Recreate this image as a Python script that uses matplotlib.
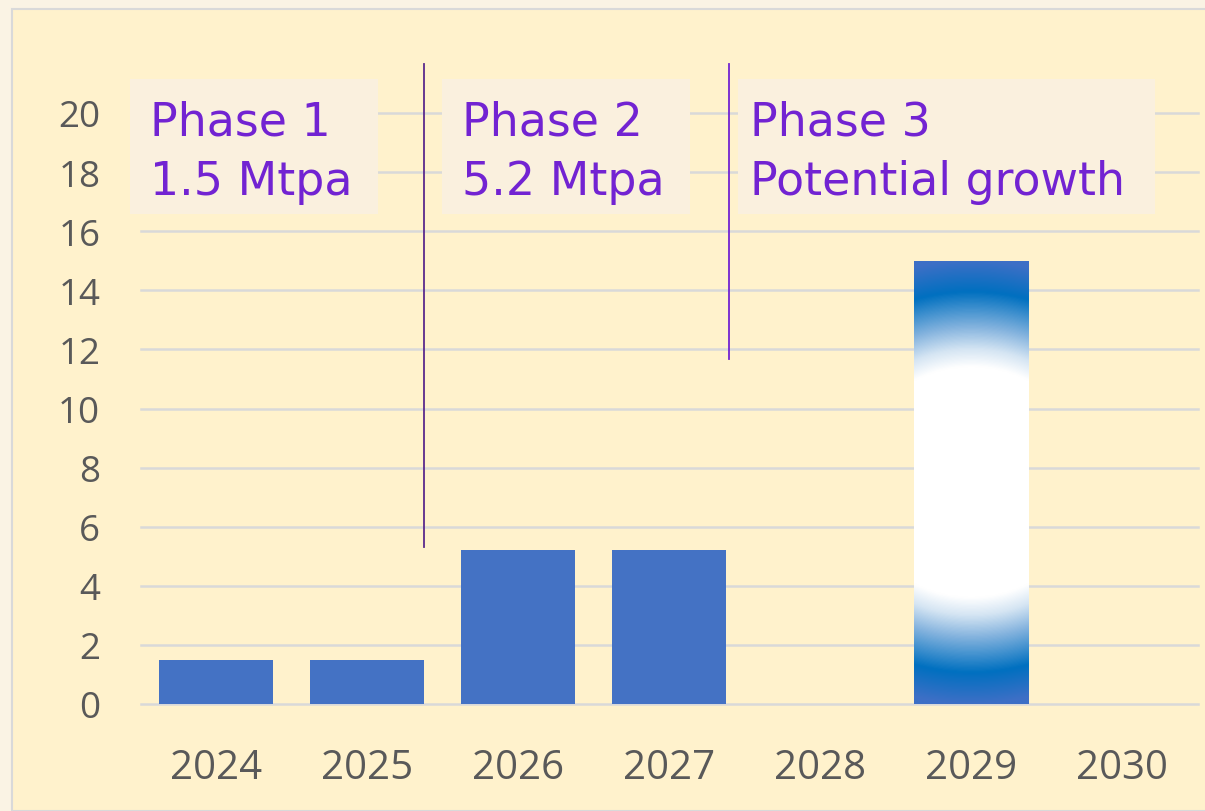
import numpy as np
import matplotlib
matplotlib.use("Agg")
import matplotlib.pyplot as plt
from matplotlib.patches import Rectangle
from matplotlib.colors import LinearSegmentedColormap

# ---- data ----
years = ["2024", "2025", "2026", "2027", "2028", "2029", "2030"]
capacity = [1.5, 1.5, 5.2, 5.2, 0, 15, 0]
highlight_year = "2029"
yticks = [0, 2, 4, 6, 8, 10, 12, 14, 16, 18, 20]
phase_titles = ["Phase 1", "Phase 2", "Phase 3"]
phase_subtitles = ["1.5 Mtpa", "5.2 Mtpa", "Potential growth"]

W, H = 1205, 812
fig = plt.figure(figsize=(W / 100, H / 100), dpi=100, facecolor="#FAF3E4")
# inner chart area
fig.patches.append(Rectangle((12 / W, 0), 1.0, 1 - 10 / H, transform=fig.transFigure,
                             facecolor="#FFF2CC", edgecolor="#D9D9D9", linewidth=1.5,
                             zorder=-10))

ax_left, ax_right = 140.5 / W, 1197.5 / W
y0_px = 705
px_per_unit = 29.55
ymax = 22
ax_bottom = 1 - y0_px / H
ax_top = 1 - (y0_px - ymax * px_per_unit) / H
ax = fig.add_axes([ax_left, ax_bottom, ax_right - ax_left, ax_top - ax_bottom])
ax.set_zorder(1)
ax.set_facecolor("none")
ax.set_xlim(-0.5, len(years) - 0.5)
ax.set_ylim(0, ymax)
for s in ax.spines.values():
    s.set_visible(False)
ax.set_yticks(yticks)
ax.set_yticklabels([str(t) for t in yticks])
ax.set_xticks(range(len(years)))
ax.set_xticklabels(years)
ax.tick_params(axis="both", length=0, colors="#595959")
ax.tick_params(axis="y", pad=29, labelsize=26.5)
ax.tick_params(axis="x", pad=31, labelsize=29)
for lbl in ax.get_xticklabels() + ax.get_yticklabels():
    lbl.set_fontfamily("Open Sans")
ax.set_axisbelow(True)
for t in yticks:
    ax.axhline(t, color="#D9D9D9", linewidth=1.8, zorder=0, clip_on=False)

bw = 0.755
colors = ["#4472C4" if y != highlight_year else "none" for y in years]
bars = ax.bar(range(len(years)), capacity, width=bw, color=colors, zorder=2)

# gradient bar
hi = years.index(highlight_year)
hb = bars[hi]
nx, ny = 200, 600
u = np.linspace(-1, 1, nx)
v = np.linspace(-1, 1, ny)
U, V = np.meshgrid(u, v)
D = np.sqrt(V ** 2 + 0.06 * U ** 2)
cmap = LinearSegmentedColormap.from_list(
    "g", [(0, "#FFFFFF"), (0.52, "#FFFFFF"), (0.60, "#D5E5F3"), (0.70, "#84B3DE"),
          (0.86, "#0070C0"), (1.0, "#3D6FC6")])
im = ax.imshow(D, cmap=cmap, vmin=0, vmax=1, extent=[hi - bw / 2, hi + bw / 2, 0, capacity[hi]],
               aspect="auto", origin="lower", zorder=2, interpolation="bilinear")
im.set_clip_path(hb)

# phase divider lines
purple = "#7223D2"
ax.plot([1.377, 1.377], [5.31, 21.66], color="#5A2A8C", linewidth=1.3, zorder=3)
ax.plot([3.40, 3.40], [11.67, 21.66], color=purple, linewidth=1.3, zorder=3)

# phase labels
boxes = [(-0.57, 1.073), (1.497, 3.139), (3.457, 6.219)]
text_x = [-0.437, 1.63, 3.536]
for (x0, x1), tx, t1, t2 in zip(boxes, text_x, phase_titles, phase_subtitles):
    ax.add_patch(Rectangle((x0, 16.58), x1 - x0, 21.15 - 16.58, facecolor="#FAF0DE",
                           edgecolor="none", zorder=4, clip_on=False))
    ax.text(tx, 19.68, t1, color=purple, fontsize=33, va="center", ha="left",
            family="DejaVu Sans", zorder=5)
    ax.text(tx, 17.69, t2, color=purple, fontsize=33, va="center", ha="left",
            family="DejaVu Sans", zorder=5)

fig.savefig("out.png", dpi=100, facecolor=fig.get_facecolor())
